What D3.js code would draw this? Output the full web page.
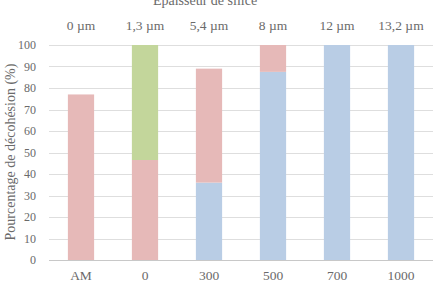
<!DOCTYPE html>
<html>
<head>
<meta charset="utf-8">
<script src="https://cdn.jsdelivr.net/npm/d3@7"></script>
<style>
  body { margin: 0; background: #fff; }
  text { font-family: 'Liberation Serif', 'Times New Roman', serif; fill: #6a6a6a; }
</style>
</head>
<body>
<div id="chart"></div>
<script>
/* categories and values */
const categories = ['AM', '0', '300', '500', '700', '1000'];
const thickness = ['0 µm', '1,3 µm', '5,4 µm', '8 µm', '12 µm', '13,2 µm'];
const blueValues = [0, 0, 36, 87.5, 100, 100];
const redValues = [77, 46.5, 53, 12.5, 0, 0];
const greenValues = [0, 53.5, 0, 0, 0, 0];
const yTicks = [0, 10, 20, 30, 40, 50, 60, 70, 80, 90, 100];

const seriesNames = ['blue', 'red', 'green'];
const seriesColors = { blue: '#b9cde5', red: '#e6b9b8', green: '#c3d69b' };

const margin = { top: 45, right: 2, bottom: 31, left: 49 };
const width = 435 - margin.left - margin.right;
const height = 291 - margin.top - margin.bottom;

const svg = d3.select('#chart')
  .append('svg')
  .attr('width', 435)
  .attr('height', 291)
  .append('g')
  .attr('transform', 'translate(' + margin.left + ',' + margin.top + ')');

/* table for the stack */
const table = categories.map(function (c, i) {
  return { cat: c, blue: blueValues[i], red: redValues[i], green: greenValues[i] };
});
const stacked = d3.stack().keys(seriesNames)(table);

const x = d3.scaleBand()
  .domain(categories)
  .range([0, width])
  .paddingInner(0.59)
  .paddingOuter(0.295);

const y = d3.scaleLinear()
  .domain([0, 100])
  .range([height, 0]);

/* gridlines */
svg.append('g')
  .selectAll('line')
  .data(yTicks)
  .enter()
  .append('line')
  .attr('x1', 0)
  .attr('x2', width)
  .attr('y1', function (d) { return Math.round(y(d)) + 0.5; })
  .attr('y2', function (d) { return Math.round(y(d)) + 0.5; })
  .attr('stroke', function (d) { return d === 0 ? '#c8c8c8' : '#dedede'; })
  .attr('stroke-width', 1);

/* bars */
svg.selectAll('.series')
  .data(stacked)
  .enter()
  .append('g')
  .attr('fill', function (d) { return seriesColors[d.key]; })
  .selectAll('rect')
  .data(function (d) { return d; })
  .enter()
  .append('rect')
  .attr('x', function (d) { return x(d.data.cat); })
  .attr('y', function (d) { return y(d[1]); })
  .attr('width', x.bandwidth())
  .attr('height', function (d) { return y(d[0]) - y(d[1]); });

/* y axis labels */
const yAxis = svg.append('g')
  .call(d3.axisLeft(y).tickValues(yTicks).tickSize(0).tickPadding(13));
yAxis.select('.domain').remove();
yAxis.selectAll('text')
  .style('font-size', '12px')
  .style('font-family', "'Liberation Serif', serif")
  .attr('fill', '#6a6a6a');

/* x axis labels */
const xAxis = svg.append('g')
  .attr('transform', 'translate(0,' + height + ')')
  .call(d3.axisBottom(x).tickSize(0).tickPadding(10));
xAxis.select('.domain').remove();
xAxis.selectAll('text')
  .style('font-size', '13.5px')
  .style('font-family', "'Liberation Serif', serif")
  .attr('fill', '#6a6a6a');

/* thickness labels on top */
svg.selectAll('.thick')
  .data(thickness)
  .enter()
  .append('text')
  .attr('x', function (d, i) { return x(categories[i]) + x.bandwidth() / 2; })
  .attr('y', -15)
  .attr('text-anchor', 'middle')
  .style('font-size', '13.5px')
  .text(function (d) { return d; });

/* top title, cut by the edge as in the original */
d3.select('svg').append('text')
  .attr('x', 205)
  .attr('y', 5)
  .attr('text-anchor', 'middle')
  .style('font-size', '14px')
  .text('Epaisseur de silice');

/* y axis title */
d3.select('svg').append('text')
  .attr('transform', 'translate(15,152) rotate(-90)')
  .attr('text-anchor', 'middle')
  .style('font-size', '14px')
  .text('Pourcentage de décohésion (%)');
</script>
</body>
</html>
